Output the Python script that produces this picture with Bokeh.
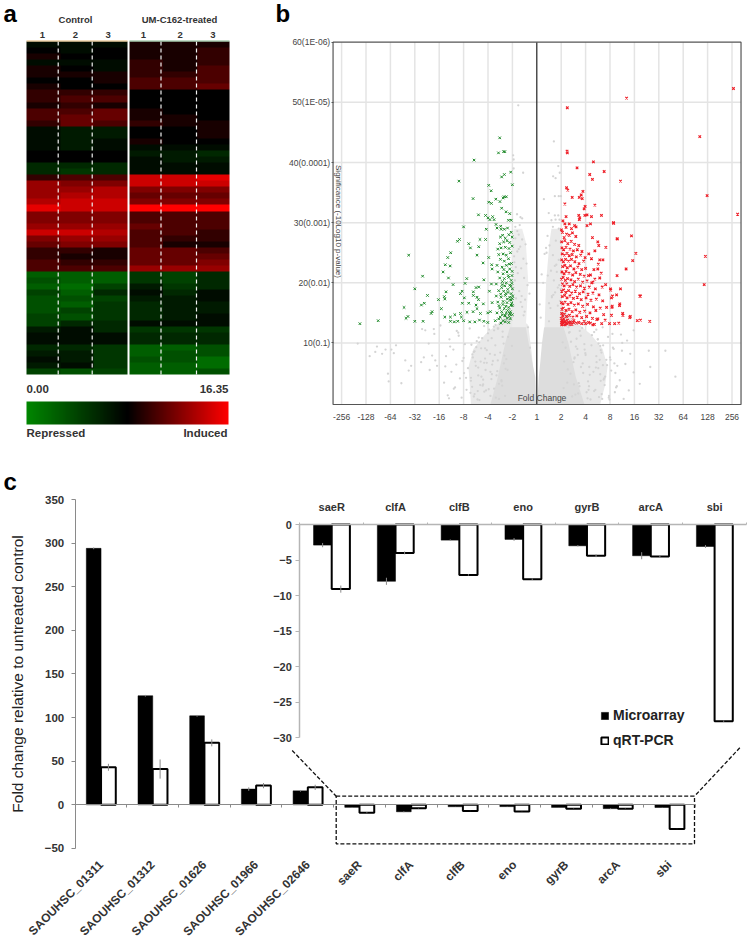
import math
import numpy as np
from bokeh.plotting import figure
from bokeh.embed import file_html
from bokeh.resources import INLINE
from bokeh.core.properties import value
from bokeh.models import (Range1d, LinearAxis, FixedTicker, LinearColorMapper, ColorBar, Legend, LegendItem)

FONT = value("Liberation Sans")

# ---------- panel a: heatmap rows, top to bottom (Control 1-3, treated 1-3) ----------
heat_rows = [
 [-1,-1,-1,1,1,1],[0,-1,0,1,1,2],[1,0,0,1,1,2],[-1,-1,-1,2,1,2],[1,0,-1,2,1,3],[1,1,1,2,2,3],
 [0,0,1,3,3,3],[1,0,0,3,3,4],[2,2,2,0,0,0],[2,3,3,0,0,0],[1,2,1,0,0,0],[3,3,4,1,0,0],
 [3,4,4,1,1,0],[2,4,3,2,1,1],[-1,-2,-2,0,0,1],[-1,-2,-2,0,0,1],[-1,-2,-1,1,0,0],[-1,-2,-1,-1,-1,-1],
 [0,0,0,-2,-2,-3],[0,0,0,-1,-2,-2],[-3,-3,-3,-1,-1,-1],[-3,-4,-3,-1,-1,-1],[2,3,3,8,8,9],[6,5,5,8,8,8],
 [6,6,7,5,5,5],[6,7,7,4,4,4],[7,8,8,5,5,5],[9,8,8,10,10,10],[5,5,5,3,3,3],[5,5,5,3,3,3],
 [6,6,6,4,3,3],[8,8,7,3,3,2],[5,6,6,3,2,2],[4,5,5,3,1,1],[2,2,1,4,4,3],[2,1,1,4,4,4],
 [3,2,2,4,4,5],[3,3,3,6,6,6],[-7,-7,-7,-4,-5,-3],[-6,-7,-7,-4,-5,-3],[-7,-8,-5,-2,-4,-3],[-5,-7,-3,-1,-3,-1],
 [-6,-6,-5,-2,-2,-1],[-6,-7,-4,-3,-2,-2],[-6,-5,-4,-3,-2,-2],[-5,-6,-4,-3,-2,-1],[-5,-3,-3,-1,-1,-1],[-2,-1,-3,-4,-4,-4],
 [-1,-1,-1,-3,-3,-3],[-1,-1,-1,-3,-3,-3],[-3,-3,-4,-7,-7,-6],[-2,-2,-4,-7,-6,-6],[-1,-2,-4,-6,-6,-8],[-2,-1,-4,-7,-7,-8],
 [-5,-6,-5,-7,-7,-6],
]
heat_groups = ["Control", "UM-C162-treated"]
heat_cols = ["1", "2", "3"]
scale_labels = ["0.00", "16.35"]
scale_names = ["Repressed", "Induced"]

# ---------- panel b: volcano, fold change on its doubling-step scale ----------
fold_ticks = ["-256","-128","-64","-32","-16","-8","-4","-2","1","2","4","8","16","32","64","128","256"]
sig_ticks = {10: "10(0.1)", 20: "20(0.01)", 30: "30(0.001)", 40: "40(0.0001)", 50: "50(1E-05)", 60: "60(1E-06)"}

green_x = [-1.52,-1.57,-1.36,-1.31,-2.57,-3.19,-1.07,-1.33,-1.44,-1.0,-1.97,-1.87,-2.61,-1.97,-1.86,-1.68,-1.51,-1.38,-1.34,-1.25,-1.44,-1.26,-1.11,-2.39,-2.1,-2.0,-1.81,-1.75,-1.92,-1.16,-1.05,-3.0,-2.07,-1.67,-1.63,-1.48,-1.46,-1.33,-1.2,
 -5.25,-3.17,-3.25,-2.79,-2.72,-2.33,-2.1,-2.38,-3.53,-3.65,-2.45,-1.97,-3.75,-3.55,-2.2,-1.85,-3.84,-1.83,-4.68,-3.62,-2.87,-2.17,-5.0,-3.43,-2.94,-1.86,-3.72,-2.49,-2.38,-3.13,-2.6,-1.94,-4.48,-4.03,-3.77,-3.79,-3.06,-2.97,-2.6,-2.45,-2.39,-5.44,-4.73,-4.61,-3.91,-3.05,-2.79,-2.49,-2.19,-1.83,-4.29,-4.33,-3.36,-3.54,-3.77,-5.28,-5.36,-5.0,-4.66,-3.13,-3.09,-2.86,-2.61,-2.45,-2.31,-2.01,-1.9,-3.54,-3.38,-3.24,-3.0,-2.75,-2.54,-2.35,-2.17,-2.01,-1.7,-7.25,-6.5,
 -1.49,-1.40,-1.29,-1.15,-1.05,-1.01,-1.52,-1.36,-1.22,-1.11,-1.60,-1.46,-1.29,-1.14,-1.01,-1.56,-1.38,-1.25,-1.08,-1.49,-1.33,-1.16,-1.04,-1.63,-1.42,-1.25,-1.11,-1.60,-1.38,-1.22,-1.01,-1.52,-1.33,-1.15,-1.05,-1.66,-1.42,-1.25,-1.11,-1.0,-1.56,-1.36,-1.19,-1.05,-1.66,-1.46,-1.29,-1.11,-0.99,-1.60,-1.38,-1.22,-1.05,-1.52,-1.33,-1.15,-1.01,-1.63,-1.42,-1.25,-1.08,-1.0,-1.56,-1.38,-1.22,-1.08,-1.29,-1.15,-1.47,
 -1.44,-1.31,-1.18,-1.07,-1.55,-1.27,-1.03,-1.44,-1.2,-1.12,-1.5,-1.3,-1.09,-1.41,-1.17,-1.02,-1.35,-1.13,-1.02,-1.48,-1.27,-1.1,-1.0,-1.39,-1.21,-1.06,-1.31,-1.12]
green_y = [44.1,41.6,41.8,41.8,40.4,36.9,38.4,38.0,37.6,36.3,36.2,35.3,34.0,33.4,33.2,33.9,33.5,34.1,34.3,34.3,32.4,31.8,31.5,31.3,31.2,30.8,31.0,30.5,30.5,30.4,30.4,29.3,28.9,29.7,29.1,29.4,28.9,28.9,29.1,
 24.6,27.2,26.9,26.5,25.8,27.2,27.2,26.0,25.0,24.2,24.6,24.2,23.0,22.8,23.3,23.0,21.8,22.3,21.1,20.8,20.7,20.5,19.0,19.7,19.9,19.8,18.5,19.2,19.3,18.2,18.5,18.6,17.9,17.2,17.3,17.7,18.6,17.5,17.9,17.6,17.2,15.9,16.3,16.6,15.7,16.6,16.6,16.3,16.5,16.7,15.2,14.9,14.7,14.3,14.3,14.4,14.1,13.6,13.6,14.9,14.3,15.1,15.2,15.7,14.9,15.0,15.2,13.6,13.5,13.6,13.7,13.5,13.5,13.8,13.6,13.4,13.7,13.2,13.7,
 27.6,27.9,27.4,28.0,28.4,27.6,26.5,26.8,27.0,26.7,25.6,25.8,25.9,25.7,26.1,24.7,24.8,24.6,25.0,23.9,23.6,24.0,23.2,22.9,22.6,22.9,22.3,21.8,21.5,21.8,21.9,20.8,20.7,20.9,20.4,19.8,19.7,20.0,19.6,19.0,18.7,18.6,18.9,18.2,17.8,17.6,17.9,17.6,17.8,16.8,16.9,16.7,17.1,15.8,15.7,15.9,16.2,15.0,14.7,15.0,15.2,14.7,14.0,13.7,14.1,14.0,13.5,13.4,13.3,
 19.2,19.5,18.4,19.4,16.2,16.1,16.6,15.2,15.4,14.4,14.3,14.6,14.8,20.2,21.2,21.2,22.2,23.1,19.9,18.1,18.2,17.2,17.4,16.4,17.3,16.3,14.5,14.9]

red_x = [1.24,2.32,1.65,2.76,2.17,2.28,3.43,1.22,1.27,1.89,1.82,1.45,1.74,1.86,1.15,2.38,1.98,1.94,1.2,1.72,1.76,1.97,2.06,2.24,2.65,3.14,1.74,1.07,1.15,1.33,1.2,1.55,1.61,2.06,2.2,1.01,1.42,
 3.68,1.25,8.06,6.68,1.25,6.98,8.23,6.91,6.86,3.88,4.06,3.93,3.66,3.29,3.3,3.15,3.43,4.22,4.63,4.25,4.12,3.83,3.52,3.4,3.08,3.1,3.03,3.36,3.19,2.98,
 3.29,2.83,2.28,2.5,2.54,2.38,2.13,2.24,2.58,2.71,2.52,2.34,2.5,2.64,2.38,2.2,2.3,2.58,2.82,2.68,3.02,3.27,3.06,3.39,3.53,3.81,3.09,3.06,4.25,
 1.05,1.12,1.22,1.33,1.46,1.6,1.02,1.15,1.27,1.41,1.55,1.72,1.03,1.1,1.2,1.36,1.5,1.66,1.85,1.04,1.13,1.24,1.33,1.45,1.62,1.8,1.98,1.02,1.09,1.18,1.3,1.42,1.56,1.73,1.92,1.06,1.15,1.25,1.38,1.52,1.68,1.84,2.0,1.03,1.12,1.2,1.32,1.47,1.6,1.78,1.94,2.12,1.01,1.08,1.17,1.26,1.4,1.55,1.7,1.88,2.06,2.25,1.05,1.12,1.23,1.35,1.48,1.63,1.79,1.95,2.15,2.4,1.02,1.1,1.19,1.3,1.43,1.58,1.75,1.9,2.1,2.3,2.55,1.04,1.14,1.24,1.36,1.5,1.66,1.82,2.02,2.22,2.44,2.7,1.01,1.07,1.16,1.28,1.4,1.54,1.7,1.88,2.08,2.32,2.6,2.86,1.03,1.09,1.2,1.32,1.45,1.6,1.76,1.96,2.18,2.42,2.74,1.02,1.06,1.13,1.22,1.34,1.48,1.64,1.84,2.04,2.28,2.5,2.8,1.0,1.05,1.1,1.18,1.26,1.38,1.52,1.72,1.94,2.2,2.46,1.01,1.04,1.09,1.14,1.2,1.3,1.44,1.62,1.84,2.12,2.36,2.66,1.02,1.06,1.11,1.16,1.24,1.36,1.5,2.0,2.3,2.58]
red_y = [41.9,40.1,39.1,38.5,38.0,37.2,36.9,35.8,35.4,35.2,34.6,34.2,34.2,34.0,33.1,32.9,32.7,32.3,31.0,31.2,30.8,31.2,31.3,31.0,31.2,30.0,30.5,30.3,29.8,29.8,29.2,29.5,29.3,29.5,29.8,28.8,29.0,
 50.7,49.1,52.3,44.3,41.6,34.5,31.4,24.4,19.7,27.8,24.9,23.7,22.3,21.2,27.3,29.9,19.0,17.8,13.6,13.8,13.7,14.4,14.9,16.5,15.9,17.8,18.8,13.3,13.2,13.2,
 27.3,25.9,27.5,26.8,26.2,25.3,24.8,24.0,23.8,23.8,23.1,22.2,22.3,21.6,20.6,21.3,20.1,20.8,19.7,19.3,19.0,18.0,17.5,16.2,14.6,14.2,16.1,14.6,17.8,
 28.4,27.5,28.1,27.9,28.3,27.7,26.8,27.0,26.5,26.9,26.4,26.2,25.8,25.5,25.9,25.6,25.3,25.5,25.2,24.8,24.6,24.9,24.5,24.7,24.3,24.6,24.2,23.8,23.5,23.9,23.6,23.9,23.5,23.2,23.6,22.7,22.9,22.5,22.8,22.3,22.6,22.2,22.4,21.8,21.5,21.9,21.6,21.3,21.7,21.4,21.1,21.2,20.6,20.9,20.4,20.7,20.5,20.2,20.6,20.1,20.3,20.0,19.8,19.5,19.8,19.4,19.7,19.3,19.5,19.1,19.3,19.0,18.6,18.8,18.4,18.7,18.3,18.6,18.2,18.5,18.1,18.3,18.0,17.7,17.9,17.5,17.8,17.4,17.6,17.2,17.5,17.1,17.3,17.0,16.7,16.5,16.8,16.4,16.7,16.3,16.5,16.1,16.4,16.0,15.8,15.9,15.6,15.8,15.4,15.6,15.2,15.5,15.1,15.3,15.0,15.4,14.7,14.9,14.5,14.8,14.4,14.6,14.3,14.5,14.2,14.4,14.1,14.0,13.8,14.1,13.7,14.0,13.6,13.8,13.5,13.7,13.4,13.6,13.3,13.9,13.4,13.6,13.3,13.5,13.2,13.4,13.1,13.3,13.2,13.4,13.1,13.2,13.0,13.1,13.3,13.0,13.2,13.1,13.4,13.2,13.0]

grey_x = [-0.76,0.7,-0.97,-0.95,-0.95,-0.56,-0.67,-0.81,-0.88,-0.7,-0.6,0.88,0.94,0.67,0.77,0.74,0.9,0.99,0.29,0.49,0.6,0.77,0.93,0.74,0.88,0.66,0.9,
 -7.34,-6.85,-6.62,-6.55,-6.34,-6.2,-6.1,-6.07,-5.96,-5.77,-5.86,-5.55,-5.25,-5.15,-5.39,-4.74,-4.63,-4.39,-4.29,-4.16,-4.09,-4.7,-4.57,-4.22,-4.2,-3.95,-4.43,
 5.27,5.68,4.65,4.59,4.22,3.97,3.83,3.7,3.97,3.49,3.63,3.77,3.56,3.1,3.15,3.02,3.22,2.88,2.74,3.28,2.6,2.96,2.66,2.35,
 -3.8,-3.72,-3.65,-3.58,-3.5,-3.42,-3.35,-3.3,-3.22,-3.15,-3.08,-3.0,-2.95,-2.88,-2.82,-2.75,-2.7,-2.64,-2.58,-2.52,-2.46,-2.4,-2.35,-2.28,-2.22,-2.16,-2.1,-3.75,-3.55,-3.4,-3.2,-3.05,-2.9,-2.72,-2.55,-2.38,-2.2,-2.05,-3.6,-3.28,-2.98,-2.68,-2.42,-2.12,
 2.4,2.45,2.5,2.55,2.6,2.65,2.7,2.78,2.85,2.92,2.98,3.05,3.12,3.2,3.3,3.4,3.5,2.44,2.62,2.8,3.0,3.25,3.45,2.52,2.72,2.95,3.18,
 -0.95,-0.85,-0.72,-0.6,-0.48,-0.9,-0.78,-0.64,-0.52,-0.38,-0.93,-0.8,-0.68,-0.55,-0.42,-0.88,-0.74,-0.6,-0.46,-0.3,0.5,0.62,0.75,0.86,0.95,0.45,0.58,0.7,0.82,0.92,0.4,0.52,0.66,0.78,0.9,0.98,-1.3,-1.35,-1.4,-1.45,-1.5,-1.55,-1.6,-1.65,-1.7,-1.75,-1.8,-1.85,-1.9,-1.95,1.2,1.25,1.3,1.4,1.5,1.6,1.7,1.8,1.9,2.0,2.1,2.2,1.35,1.55,1.75,1.95,2.15,
 -2.7,-2.62,-2.55,-2.48,-2.4,-2.32,-2.24,-2.16,-2.08,-2.0,-1.92,-1.84,-1.76,-1.68,-1.6,-1.52,-1.44,-1.36,-1.28,-1.2,-2.65,-2.5,-2.36,-2.2,-2.05,-1.9,-1.75,-1.62,-1.48,-1.33,-1.18,-2.58,-2.43,-2.27,-2.12,-1.97,-1.83,-1.69,-1.55,-1.4,-1.25,-1.1,-2.3,-2.15,-2.0,-1.86,-1.72,-1.58,-1.42,-1.28,-1.14,-1.02,
 1.02,1.1,1.18,1.27,1.36,1.45,1.54,1.63,1.72,1.81,1.9,1.99,2.08,2.17,2.26,2.35,2.44,2.53,2.62,2.71,1.06,1.22,1.38,1.58,1.76,1.96,2.14,2.32,2.5,2.68,1.12,1.32,1.52,1.68,1.86,2.04,2.24,2.42,2.58,2.76,1.16,1.42,1.66,1.88,2.12,
 -1.1,-0.98,-0.86,-0.74,-0.62,-0.5,-1.04,-0.92,-0.8,-0.66,-0.54,-0.36,-0.28,0.12,0.2,0.32,0.44,0.56,0.68,0.8,0.16,0.26,0.38,0.5,0.62,0.74,0.86,0.98]
grey_y = [49.5,43.5,41.2,40.5,39.0,38.3,30.9,31.4,29.3,29.6,30.7,39.4,38.3,37.7,37.4,34.4,34.4,34.4,33.9,31.6,30.4,30.5,30.5,31.2,31.2,29.3,29.0,
 9.9,7.8,8.5,9.4,8.2,8.9,4.9,3.6,8.9,9.6,8.3,3.3,5.4,6.2,7.1,6.8,7.6,5.5,7.9,7.1,6.2,12.3,12.1,12.3,11.5,12.9,9.9,
 8.7,4.4,6.0,8.7,3.2,5.1,8.2,10.4,12.1,8.7,6.5,2.1,0.7,11.5,9.0,7.2,5.0,6.3,3.9,2.8,9.5,1.2,1.5,11.8,
 3.4,7.8,1.3,10.6,5.2,8.9,2.6,6.4,11.7,4.1,0.9,7.5,9.8,2.2,5.8,12.4,3.7,8.1,1.1,6.9,10.3,4.6,0.5,9.1,2.9,12.8,5.5,6.1,9.4,2.4,11.2,7.0,4.2,1.7,8.6,10.9,3.1,6.7,0.8,12.0,5.0,9.7,2.0,7.4,
 2.2,6.8,10.6,1.0,4.8,8.4,12.6,3.0,7.2,11.0,0.6,5.4,9.2,1.8,6.2,3.8,10.0,12.2,8.8,4.4,7.6,2.6,11.4,5.8,9.6,0.9,6.6,
 16.2,17.4,18.6,16.0,17.2,20.4,21.6,22.4,20.8,19.6,24.4,25.2,26.0,24.0,23.2,27.4,28.0,27.2,26.4,18.2,16.6,17.8,18.4,19.2,17.0,21.2,22.0,20.4,21.8,19.6,25.0,26.2,24.6,27.0,23.8,26.8,1.2,6.6,11.0,3.8,8.4,0.7,12.4,4.6,9.6,2.4,7.0,10.8,5.2,12.2,0.8,3.4,12.6,10.2,6.8,9.4,1.6,11.2,5.0,8.0,3.6,0.6,11.8,7.6,2.8,9.8,6.0,
 4.2,7.6,1.5,9.3,5.9,3.0,10.8,6.7,2.1,11.6,8.2,4.8,12.7,0.9,7.1,13.2,3.6,9.9,13.8,5.5,2.7,6.2,10.1,3.9,8.8,1.2,12.1,5.3,14.2,7.9,11.0,8.5,0.6,4.4,9.1,2.3,6.4,13.0,3.2,11.9,7.3,14.7,6.9,1.9,10.4,4.0,8.0,12.4,2.9,5.7,14.0,9.5,
 13.6,2.5,9.2,5.6,12.9,1.1,7.4,10.7,3.3,6.0,13.1,8.3,0.8,4.7,11.3,2.0,7.8,9.9,3.7,6.3,10.1,14.4,4.9,1.4,12.0,8.9,2.8,5.2,10.6,0.7,6.9,11.7,3.1,8.0,12.5,1.8,9.6,5.9,7.2,4.1,14.6,13.4,9.0,6.6,2.2,
 15.6,18.8,22.6,25.6,17.8,15.2,19.4,23.4,28.6,16.8,14.6,12.6,9.2,16.4,21.4,24.8,27.8,15.8,18.0,23.0,14.2,20.0,25.8,13.6,17.6,22.8,16.2,19.0]

wide_left_x = [-2.7,-2.75,-2.8,-2.6,-2.1,-1.5,-1.1,-0.35,-0.2,-0.02]
wide_left_y = [-0.2,3.0,6.0,9.0,11.5,13.5,15.5,13.0,8.0,-0.2]
wide_right_x = [0.02,0.2,0.35,1.1,1.6,2.2,2.7,2.9,2.8,2.6]
wide_right_y = [-0.2,8.0,13.0,15.5,13.5,11.5,9.0,6.0,3.0,-0.2]
core_left_x = [-1.9,-1.6,-1.45,-1.3,-1.1,-0.45,-0.33,-0.2,-0.06,-0.02]
core_left_y = [-0.2,4.3,7.1,9.9,12.6,12.6,9.9,7.1,4.3,-0.2]
core_right_x = [0.02,0.08,0.15,0.21,0.3,1.1,1.3,1.45,1.6,1.95]
core_right_y = [-0.2,4.3,7.1,9.9,12.6,12.6,9.9,7.1,4.3,-0.2]
upper_left_x = [-1.0,-1.0,-1.0,-0.95,-0.6,-0.45,-0.35,-0.45]
upper_left_y = [12.6,20.0,26.8,29.0,29.0,26.8,20.0,12.6]
upper_right_x = [0.32,0.38,0.52,0.6,0.98,0.96,0.96,1.0]
upper_right_y = [12.6,20.0,26.8,29.0,29.0,26.8,20.0,12.6]

# ---------- panel c ----------
genes = ["SAOUHSC_01311","SAOUHSC_01312","SAOUHSC_01626","SAOUHSC_01966","SAOUHSC_02646","saeR","clfA","clfB","eno","gyrB","arcA","sbi"]
micro = [294,125,102,18,16,-2.9,-8.0,-2.2,-2.1,-3.0,-4.4,-3.1]
qpcr = [43,41,71,22,20,-9.1,-4.0,-7.1,-7.7,-4.4,-4.5,-27.7]
micro_err = [1,1,1,2,1,0.3,0.5,0.1,0.2,0.1,0.5,0.2]
qpcr_err = [4,11,4,3,3,0.5,0.2,0.1,0.1,0.2,0.2,0.1]
inset_genes = genes[5:]
inset_micro = micro[5:]
inset_qpcr = qpcr[5:]
inset_micro_err = micro_err[5:]
inset_qpcr_err = qpcr_err[5:]

# ---------- page: one canvas whose default ranges follow the picture's pixels ----------
LEFT, RIGHT, BOTTOM, TOP = 0, 750, 937, 0

def span(v0, p0, v1, p1, ps, pe):
    k = (v1 - v0) / (p1 - p0)
    return Range1d(start=v0 + (ps - p0) * k, end=v0 + (pe - p0) * k)

def sx(v0, p0, v1, p1):
    return span(v0, p0, v1, p1, LEFT, RIGHT)

def sy(v0, p0, v1, p1):
    return span(v0, p0, v1, p1, BOTTOM, TOP)

p = figure(width=RIGHT - LEFT, height=BOTTOM - TOP, x_range=Range1d(LEFT, RIGHT), y_range=Range1d(BOTTOM, TOP),
           x_axis_location=None, y_axis_location=None, min_border=0, outline_line_color=None,
           tools="", toolbar_location=None, output_backend="svg", background_fill_color="white")
p.xgrid.visible = False
p.ygrid.visible = False
p.extra_x_ranges = {
    "hx": sx(0, 26, 3, 127),
    "vx": sx(0, 536.3, 8, 731.5),
    "cx": sx(0, 74.7, 12, 695),
    "ix": sx(0, 299.3, 7, 746),
}
p.extra_y_ranges = {
    "hy": sy(55, 41, 0, 374),
    "vy": sy(0, 402.6, 60, 41.7),
    "cy": sy(0, 804.3, 350, 499),
    "iy": sy(0, 524, -30, 737),
}

def txt(xs, ys, labels, size, color="#222222", style="bold", align="center", angle=0.0):
    p.text(x=xs, y=ys, text=labels, text_font=FONT, text_font_size=f"{size}px", text_font_style=style,
           text_color=color, text_align=align, text_baseline="middle", angle=angle)

# panel letters
txt([3, 275, 3], [13, 13, 481], ["a", "b", "c"], 24, color="black", align="left")

# ---- a ----
mapper = LinearColorMapper(palette=[
    f"#{max(0, int(255 * (i - 128) / 127)):02x}{max(0, int(135 * (127 - i) / 127)):02x}00" for i in range(256)
], low=-10, high=10)
ctrl = [[r[j] for j in range(3)] for r in heat_rows[::-1]]
trt = [[r[j] for j in range(3, 6)] for r in heat_rows[::-1]]
p.image(image=[np.array(ctrl, dtype=float)], x=0, y=0, dw=3, dh=len(heat_rows), color_mapper=mapper,
        x_range_name="hx", y_range_name="hy")
p.image(image=[np.array(trt, dtype=float)], x=3.06, y=0, dw=2.97, dh=len(heat_rows), color_mapper=mapper,
        x_range_name="hx", y_range_name="hy")
p.segment([57.7, 91.7, 160.5, 196], [41] * 4, [57.7, 91.7, 160.5, 196], [374] * 4,
          line_color="#f2f2f2", line_width=1.2, line_dash="4 3")
p.segment([26], [40.5], [127], [40.5], line_color="#e2b774", line_width=1)
p.segment([129], [40.5], [229], [40.5], line_color="#7fb58a", line_width=1)
txt([75, 179], [19, 19], heat_groups, 9.5, color="#333333")
txt([42, 75, 107.7, 143, 179.7, 212.3], [34] * 6, heat_cols * 2, 9.5, color="#333333")
txt([26], [388], [scale_labels[0]], 11.5, color="#333333", align="left")
txt([228], [388], [scale_labels[1]], 11.5, color="#333333", align="right")
txt([26], [432], [scale_names[0]], 11.5, color="#333333", align="left")
txt([227], [432], [scale_names[1]], 11.5, color="#333333", align="right")
bar = ColorBar(color_mapper=mapper, orientation="horizontal", width=202, height=23, padding=0, margin=0,
               location=(26, 937 - 424), ticker=FixedTicker(ticks=[]), major_tick_line_color=None,
               minor_tick_line_color=None, bar_line_color=None, border_line_color=None,
               background_fill_color=None, label_standoff=0)
p.add_layout(bar, "center")

# ---- b ----
pos = list(range(-8, 9))
grid_x = [t for t in pos if t != 0]
grid_y = [10, 20, 30, 40, 50]
vk = dict(x_range_name="vx", y_range_name="vy")
p.segment(grid_x, [-0.2] * len(grid_x), grid_x, [60] * len(grid_x), line_color="#e4e4e4", line_width=1.5, **vk)
p.segment([-8.35] * 5, grid_y, [8.37] * 5, grid_y, line_color="#e4e4e4", line_width=1.5, **vk)
p.patch(wide_left_x, wide_left_y, fill_color="#e9e9e9", line_color=None, **vk)
p.patch(wide_right_x, wide_right_y, fill_color="#e9e9e9", line_color=None, **vk)
p.patch(upper_left_x, upper_left_y, fill_color="#ededed", line_color=None, **vk)
p.patch(upper_right_x, upper_right_y, fill_color="#e9e9e9", line_color=None, **vk)
p.patch(core_left_x, core_left_y, fill_color="#dddddd", line_color=None, **vk)
p.patch(core_right_x, core_right_y, fill_color="#dddddd", line_color=None, **vk)
p.scatter(grey_x, grey_y, marker="circle", size=2.3, fill_color="#d4d4d4", line_color=None, **vk)
p.scatter(green_x, green_y, marker="x", size=3.6, line_color="#1f8a2a", line_width=1, **vk)
p.scatter(red_x, red_y, marker="x", size=3.6, line_color="#ee1c25", line_width=1.1, **vk)
p.segment([0], [-0.2], [0], [60], line_color="#222222", line_width=1.2, **vk)
p.quad(left=[-8.35], right=[8.37], bottom=[-0.23], top=[60], fill_color=None, line_color="#555555", line_width=1.2, **vk)

sig_axis = LinearAxis(y_range_name="vy", fixed_location=332.7, bounds=(10, 60), ticker=FixedTicker(ticks=list(sig_ticks)),
                      major_label_overrides=dict(sig_ticks),
                      axis_line_color=None, major_tick_line_color="#555555", major_tick_out=2, major_tick_in=0,
                      minor_tick_line_color=None, major_label_text_font="Liberation Sans",
                      major_label_text_font_size="8.5px", major_label_text_color="#444444", major_label_standoff=1)
p.add_layout(sig_axis, "left")
fold_axis = LinearAxis(x_range_name="vx", fixed_location=404, bounds=(-8, 8), ticker=FixedTicker(ticks=pos),
                       major_label_overrides={t: l for t, l in zip(pos, fold_ticks)},
                       axis_line_color=None, major_tick_line_color=None, minor_tick_line_color=None,
                       major_label_text_font="Liberation Sans", major_label_text_font_size="8.5px",
                       major_label_text_color="#444444", major_label_standoff=3)
p.add_layout(fold_axis, "below")
txt([337.5], [221], ["Significance (-10Log10 p-value)"], 8, color="#444444", style="normal", angle=-math.pi / 2)
txt([541.5], [397], ["Fold Change"], 8.5, color="#444444", style="normal")

# ---- c main ----
idx = list(range(len(genes) + 1))
mid = [i + 0.5 for i in range(len(genes))]
ck = dict(x_range_name="cx", y_range_name="cy")
bw = 0.285
p.vbar(x=[m - bw / 2 for m in mid], top=micro, bottom=0, width=bw, fill_color="black", line_color="black", line_width=0.5, **ck)
p.vbar(x=[m + bw / 2 for m in mid], top=qpcr, bottom=0, width=bw, fill_color="white", line_color="black", line_width=2, **ck)
p.segment([m + bw / 2 for m in mid], [q - e for q, e in zip(qpcr, qpcr_err)], [m + bw / 2 for m in mid],
          [q + e for q, e in zip(qpcr, qpcr_err)], line_color="#8a8a8a", line_width=1, **ck)
p.segment([m - bw / 2 for m in mid], [q - e for q, e in zip(micro, micro_err)], [m - bw / 2 for m in mid],
          [q + e for q, e in zip(micro, micro_err)], line_color="#8a8a8a", line_width=1, **ck)

yc = LinearAxis(y_range_name="cy", fixed_location=74.7, bounds=(-50, 350), ticker=FixedTicker(ticks=list(range(-50, 351, 50))),
                axis_line_color="#8a8a8a", major_tick_line_color="#8a8a8a", major_tick_out=4, major_tick_in=0,
                minor_tick_line_color=None, major_label_text_font="Liberation Sans", major_label_text_font_style="bold",
                major_label_text_font_size="11.5px", major_label_text_color="#333333", major_label_standoff=7,
                axis_label="Fold change relative to untreated control", axis_label_text_font="Liberation Sans",
                axis_label_text_font_style="normal", axis_label_text_font_size="15.5px", axis_label_text_color="#222222",
                axis_label_standoff=16)
p.add_layout(yc, "left")
xc = LinearAxis(x_range_name="cx", fixed_location=804.3, bounds=(0, 12), ticker=FixedTicker(ticks=mid, minor_ticks=idx),
                major_label_overrides={m: g for m, g in zip(mid, genes)}, major_label_orientation=math.pi / 4,
                axis_line_color="#8a8a8a", major_tick_line_color=None, minor_tick_line_color="#8a8a8a",
                minor_tick_out=3, minor_tick_in=0, major_label_standoff=52,
                major_label_text_font="Liberation Sans", major_label_text_font_style="bold",
                major_label_text_font_size="12px", major_label_text_color="#333333")
p.add_layout(xc, "below")

# ---- c inset ----
ik = dict(x_range_name="ix", y_range_name="iy")
imid = [i + 0.5 for i in range(len(inset_genes))]
ibw = 0.285
r_m = p.vbar(x=[m - ibw / 2 for m in imid], top=inset_micro, bottom=0, width=ibw, fill_color="black", line_color="black", line_width=0.5, **ik)
r_q = p.vbar(x=[m + ibw / 2 for m in imid], top=inset_qpcr, bottom=0, width=ibw, fill_color="white", line_color="black", line_width=2, **ik)
p.segment([m + ibw / 2 for m in imid], [q - e for q, e in zip(inset_qpcr, inset_qpcr_err)], [m + ibw / 2 for m in imid],
          [q + e for q, e in zip(inset_qpcr, inset_qpcr_err)], line_color="#8a8a8a", line_width=1, **ik)
p.segment([m - ibw / 2 for m in imid], [q - e for q, e in zip(inset_micro, inset_micro_err)], [m - ibw / 2 for m in imid],
          [q + e for q, e in zip(inset_micro, inset_micro_err)], line_color="#8a8a8a", line_width=1, **ik)
yi = LinearAxis(y_range_name="iy", fixed_location=299.3, bounds=(-30, 0), ticker=FixedTicker(ticks=list(range(-30, 1, 5))),
                axis_line_color="#b5b5b5", axis_line_width=1.5, major_tick_line_color="#b5b5b5", major_tick_out=4, major_tick_in=0,
                minor_tick_line_color=None, major_label_text_font="Liberation Sans", major_label_text_font_style="bold",
                major_label_text_font_size="11px", major_label_text_color="#333333", major_label_standoff=4)
p.add_layout(yi, "left")
xi = LinearAxis(x_range_name="ix", fixed_location=524, bounds=(0, 7), ticker=FixedTicker(ticks=imid, minor_ticks=list(range(8))),
                major_label_overrides={m: g for m, g in zip(imid, inset_genes)},
                axis_line_color="#b5b5b5", axis_line_width=1.5, major_tick_line_color=None, minor_tick_line_color="#b5b5b5",
                minor_tick_out=2, minor_tick_in=0,
                major_label_standoff=6, major_label_text_font="Liberation Sans", major_label_text_font_style="bold",
                major_label_text_font_size="11px", major_label_text_color="#333333")
p.add_layout(xi, "above")
leg = Legend(items=[LegendItem(label="Microarray", renderers=[r_m]), LegendItem(label="qRT-PCR", renderers=[r_q])],
             location=(600, 189), glyph_width=9, glyph_height=9, spacing=9, padding=0, margin=0, border_line_color=None,
             background_fill_alpha=0, label_text_font="Liberation Sans", label_text_font_style="bold",
             label_text_font_size="14px", label_text_color="#222222", label_standoff=4)
p.add_layout(leg, "center")

# zoom box and its guide lines
p.quad(left=[335.7], right=[694], top=[795.7], bottom=[843.3], fill_color=None, line_color="#111111", line_width=1.3, line_dash="4 2")
p.segment([291.7, 739.3], [750, 747.3], [335.7, 694], [795.7, 795.7], line_color="#111111", line_width=1.3, line_dash="4 2")

open("out.html", "w").write(file_html(p, INLINE))
